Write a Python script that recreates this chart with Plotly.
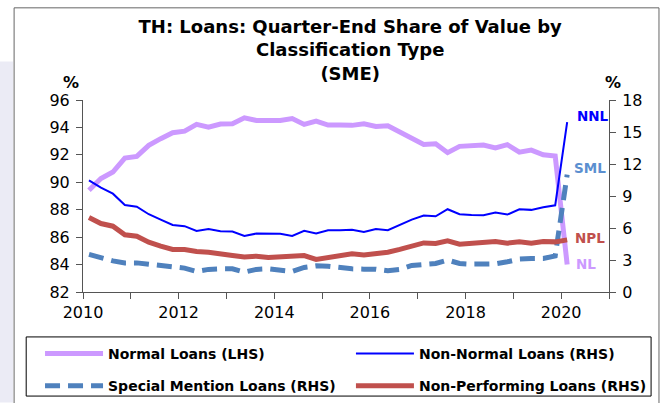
import plotly.graph_objects as go

quarters = [f"{y}Q{q}" for y in range(2010, 2021) for q in range(1, 5)][:41]

normal_loans = [89.42, 90.27, 90.75, 91.77, 91.89, 92.69, 93.18, 93.61, 93.73, 94.22, 94.02,
                94.25, 94.27, 94.70, 94.51, 94.51, 94.51, 94.65, 94.22, 94.46, 94.17, 94.17,
                94.15, 94.27, 94.07, 94.12, 93.64, 93.18, 92.76, 92.81, 92.16, 92.62, 92.67,
                92.71, 92.50, 92.74, 92.20, 92.35, 92.01, 91.91, 84.00]
non_normal = [10.47, 9.78, 9.22, 8.16, 8.00, 7.29, 6.79, 6.29, 6.17, 5.73, 5.91,
              5.70, 5.67, 5.26, 5.48, 5.48, 5.45, 5.26, 5.73, 5.48, 5.79, 5.79,
              5.83, 5.63, 5.91, 5.79, 6.29, 6.79, 7.17, 7.10, 7.76, 7.29, 7.23,
              7.20, 7.45, 7.26, 7.76, 7.70, 7.94, 8.13, 15.92]
special_mention = [3.52, 3.20, 2.92, 2.73, 2.73, 2.61, 2.49, 2.36, 2.24, 1.93, 2.12,
                   2.17, 2.17, 1.86, 2.12, 2.17, 2.05, 1.93, 2.30, 2.45, 2.42, 2.24,
                   2.17, 2.14, 2.14, 1.99, 2.12, 2.49, 2.61, 2.67, 2.99, 2.67, 2.61,
                   2.62, 2.64, 2.83, 3.08, 3.14, 3.14, 3.39, 11.00]
non_performing = [6.98, 6.42, 6.17, 5.36, 5.23, 4.67, 4.30, 3.99, 3.99, 3.80, 3.73,
                  3.52, 3.42, 3.29, 3.36, 3.23, 3.29, 3.36, 3.42, 3.05, 3.23, 3.42,
                  3.58, 3.48, 3.61, 3.73, 3.99, 4.30, 4.60, 4.55, 4.79, 4.48, 4.60,
                  4.62, 4.73, 4.58, 4.70, 4.58, 4.73, 4.70, 4.89]

year_ticks = list(range(2010, 2022))
year_labels = [str(y) if y % 2 == 0 and y <= 2020 else "" for y in year_ticks]

# quarter label -> mid-quarter position on a year axis
x = [int(q[:4]) + (int(q[-1]) - 1) * 0.25 + 0.125 for q in quarters]

C_NL = "#CC99FF"
C_NNL = "#0000FF"
C_SML = "#4F81BD"
C_NPL = "#C0504D"
FONT = "DejaVu Sans, Liberation Sans, Arial, sans-serif"

fig = go.Figure()
fig.add_trace(go.Scatter(x=x, y=normal_loans, name="Normal Loans (LHS)", mode="lines",
                         line=dict(color=C_NL, width=5), yaxis="y",
                         legend="legend", legendgroup="a"))
fig.add_trace(go.Scatter(x=x, y=non_normal, name="Non-Normal Loans (RHS)", mode="lines",
                         line=dict(color=C_NNL, width=2), yaxis="y2",
                         legend="legend2", legendgroup="b"))
fig.add_trace(go.Scatter(x=x, y=special_mention, name="Special Mention Loans (RHS)", mode="lines",
                         line=dict(color=C_SML, width=5, dash="15px,8px"), yaxis="y2",
                         legend="legend", legendgroup="c"))
fig.add_trace(go.Scatter(x=x, y=non_performing, name="Non-Performing Loans (RHS)", mode="lines",
                         line=dict(color=C_NPL, width=5), yaxis="y2",
                         legend="legend2", legendgroup="d"))

axis_common = dict(showgrid=False, zeroline=False, showline=True, linecolor="#555555",
                   linewidth=1, ticks="outside", ticklen=6, tickcolor="#555555",
                   tickfont=dict(family=FONT, size=16, color="black"))

legend_common = dict(orientation="v", yanchor="top", bgcolor="rgba(0,0,0,0)", borderwidth=0,
                     font=dict(family=FONT, size=14, color="black", weight="bold"),
                     itemwidth=58, traceorder="grouped", tracegroupgap=11)

fig.update_layout(
    width=670, height=403,
    margin=dict(l=83, r=61, t=100, b=111, autoexpand=False),
    paper_bgcolor="white", plot_bgcolor="white",
    font=dict(family=FONT, color="black"),
    title=dict(text="<b>TH: Loans: Quarter-End Share of Value by<br>Classification Type<br>(SME)</b>",
               xref="paper", x=0.508, xanchor="center", y=0.918, yanchor="top",
               font=dict(family=FONT, size=18, color="black")),
    xaxis=dict(range=[2010, 2021], tickvals=year_ticks, ticktext=year_labels, **axis_common),
    yaxis=dict(range=[82, 96], dtick=2, ticklabelstandoff=3, **axis_common),
    yaxis2=dict(range=[0, 18], dtick=3, overlaying="y", side="right", ticklabelstandoff=3,
                **axis_common),
    showlegend=True,
    legend=dict(x=-0.0817, xanchor="left", y=-0.239, **legend_common),
    legend2=dict(x=0.5094, xanchor="left", y=-0.239, **legend_common),
    shapes=[
        dict(type="rect", xref="paper", yref="paper", x0=-0.158, x1=-0.133,
             y0=-0.575, y1=1.2, line=dict(width=0), fillcolor="#EBEBF5", layer="below"),
        dict(type="rect", xref="paper", yref="paper", x0=-0.131, x1=1.095,
             y0=-0.62, y1=1.48, line=dict(color="#666666", width=1),
             fillcolor="rgba(0,0,0,0)", layer="below"),
        dict(type="rect", xref="paper", yref="paper", x0=-0.108, x1=1.080,
             y0=-0.542, y1=-0.234, line=dict(color="black", width=1),
             fillcolor="rgba(0,0,0,0)", layer="above"),
    ],
    annotations=[
        dict(text="<b>%</b>", x=-0.042, y=1.153, xref="paper", yref="paper", showarrow=False,
             font=dict(family=FONT, size=16)),
        dict(text="<b>%</b>", x=1.027, y=1.153, xref="paper", yref="paper", showarrow=False,
             font=dict(family=FONT, size=16)),
        dict(text="<b>NNL</b>", x=2020.67, y=16.5, xref="x", yref="y2", showarrow=False,
             font=dict(family=FONT, size=13.5, color=C_NNL)),
        dict(text="<b>SML</b>", x=2020.61, y=11.6, xref="x", yref="y2", showarrow=False,
             font=dict(family=FONT, size=13.5, color="#5B8FD0")),
        dict(text="<b>NPL</b>", x=2020.61, y=5.04, xref="x", yref="y2", showarrow=False,
             font=dict(family=FONT, size=13.5, color=C_NPL)),
        dict(text="<b>NL</b>", x=2020.51, y=2.61, xref="x", yref="y2", showarrow=False,
             font=dict(family=FONT, size=13.5, color=C_NL)),
    ],
)

fig.write_html("out.html", config={"displayModeBar": False},
               post_script="document.body.style.margin='0';document.body.style.overflow='hidden';")
